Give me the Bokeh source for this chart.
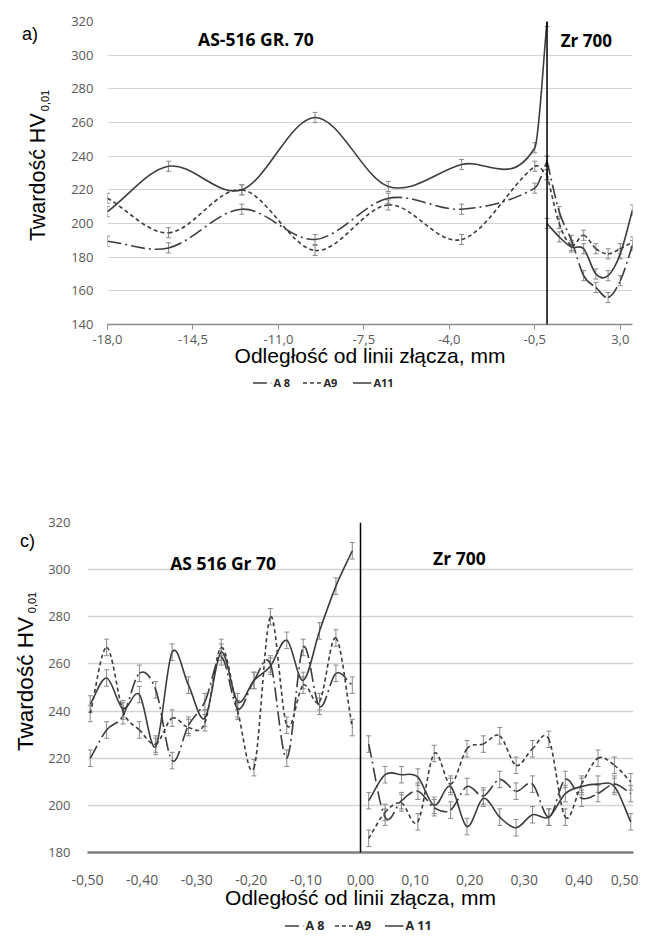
import math
from bokeh.plotting import figure
from bokeh.models import (ColumnDataSource, Whisker, TeeHead, Span, Label, Legend,
                          LegendItem, Spacer)
from bokeh.layouts import column, row
from bokeh.embed import file_html
from bokeh.resources import INLINE

# ---------------- chart a) ----------------
a_x_left = [-18.0, -15.5, -12.5, -9.5, -6.5, -3.5, -0.5, 0.0]
a_x_right = [0.0, 0.5, 1.0, 1.5, 2.0, 2.5, 3.0, 3.5]
a_A8_left = [189.5, 185.5, 208.5, 190.5, 215, 208.5, 221, 237]
a_A9_left = [215, 194.5, 220, 184, 211, 190.5, 234, 229]
a_A11_left = [207, 234, 220, 263, 222, 235, 245, 320]
a_A8_right = [237, 207, 190, 169, 162, 156, 166, 187]
a_A9_right = [229, 200, 187, 193, 185, 182, 185, 189]
a_A11_right = [200, 192, 186, 185, 170, 169, 182, 208]
a_err = 3.0
a_xticks = [-18.0, -14.5, -11.0, -7.5, -4.0, -0.5, 3.0]
a_xlabels = ["-18,0", "-14,5", "-11,0", "-7,5", "-4,0", "-0,5", "3,0"]
a_yticks = [140, 160, 180, 200, 220, 240, 260, 280, 300, 320]

# ---------------- chart c) ----------------
c_x_left = [-0.495, -0.465, -0.435, -0.405, -0.375, -0.345, -0.315, -0.285, -0.255,
            -0.225, -0.195, -0.165, -0.135, -0.105, -0.075, -0.045, -0.015]
c_x_right = [0.015, 0.045, 0.075, 0.105, 0.135, 0.165, 0.195, 0.225, 0.255,
             0.285, 0.315, 0.345, 0.375, 0.405, 0.435, 0.465, 0.495]
c_A8_left = [220, 232, 238, 256, 249, 219, 234, 244, 263, 241, 253, 260, 220, 267, 242, 256, 251]
c_A9_left = [239, 267, 240, 232, 226, 237, 233, 235, 267, 240, 216, 280, 234, 251, 244, 271, 233]
c_A11_left = [243, 254, 241, 247, 225, 265, 251, 237, 265, 244, 253, 259, 270, 253, 274, 293, 308]
c_A8_right = [226, 195, 202, 206, 199, 198, 208, 204, 211, 206, 209, 195, 211, 203, 205, 209, 205]
c_A9_right = [186, 197, 201, 193, 222, 209, 224, 226, 229.5, 217, 224, 228, 195, 209, 220, 217, 210]
c_A11_right = [202, 213, 213, 212, 200, 208, 191, 203, 195, 190.5, 196, 195, 205, 208, 209, 208, 193]
c_err = 3.5
c_xticks = [-0.5, -0.4, -0.3, -0.2, -0.1, 0.0, 0.1, 0.2, 0.3, 0.4, 0.5]
c_xlabels = ["-0,50", "-0,40", "-0,30", "-0,20", "-0,10", "0,00", "0,10", "0,20", "0,30", "0,40", "0,50"]
c_yticks = [180, 200, 220, 240, 260, 280, 300, 320]

LINE_COL = "#3c3c3c"
ERR_COL = "#8a8a8a"
STYLES = {"A8": "14 4 2 4", "A9": "4 3", "A11": "solid"}
TICK_FONT = "Open Sans"
TITLE_FONT = "Liberation Sans"
X_TITLE = "Odległość od linii złącza, mm"
NAN = float("nan")


def smooth_cols(xs, ys):
    """Excel-like smoothed line: cubic Hermite bezier segments through the data points."""
    n = len(xs)
    def slope(i):
        a = max(i - 1, 0)
        b = min(i + 1, n - 1)
        return (ys[b] - ys[a]) / (xs[b] - xs[a])
    d = dict(x0=[], y0=[], x1=[], y1=[], cx0=[], cy0=[], cx1=[], cy1=[])
    for i in range(n - 1):
        h = xs[i + 1] - xs[i]
        d["x0"].append(xs[i]); d["y0"].append(ys[i])
        d["x1"].append(xs[i + 1]); d["y1"].append(ys[i + 1])
        d["cx0"].append(xs[i] + h / 3); d["cy0"].append(ys[i] + slope(i) * h / 3)
        d["cx1"].append(xs[i + 1] - h / 3); d["cy1"].append(ys[i + 1] - slope(i + 1) * h / 3)
    return ColumnDataSource(d)


def add_series(p, xs, ys, err, dash):
    p.bezier(x0="x0", y0="y0", x1="x1", y1="y1", cx0="cx0", cy0="cy0", cx1="cx1", cy1="cy1",
             source=smooth_cols(xs, ys), line_color=LINE_COL, line_width=1.6, line_dash=dash)
    src = ColumnDataSource(dict(x=xs, lo=[v - err for v in ys], hi=[v + err for v in ys]))
    p.add_layout(Whisker(base="x", lower="lo", upper="hi", source=src, line_color=ERR_COL,
                         line_width=1,
                         lower_head=TeeHead(size=5, line_color=ERR_COL, line_width=1),
                         upper_head=TeeHead(size=5, line_color=ERR_COL, line_width=1)))


def style_chart(p, yticks, xticks, xlabels, size_x, size_y, grid_w):
    p.outline_line_color = None
    p.xgrid.visible = False
    p.ygrid.grid_line_color = "#d4d4d4"
    p.ygrid.grid_line_width = grid_w
    p.yaxis.ticker = yticks
    p.yaxis.axis_line_color = None
    p.yaxis.major_tick_line_color = None
    p.yaxis.minor_tick_line_color = None
    p.yaxis.major_tick_out = 0
    p.yaxis.major_tick_in = 0
    p.yaxis.major_label_text_font = TICK_FONT
    p.yaxis.major_label_text_font_size = size_y
    p.yaxis.major_label_text_color = "#595959"
    p.xaxis.ticker = xticks
    p.xaxis.major_label_overrides = {t: l for t, l in zip(xticks, xlabels)}
    p.xaxis.minor_tick_line_color = None
    p.xaxis.major_label_text_font = TICK_FONT
    p.xaxis.major_label_text_font_size = size_x
    p.xaxis.major_label_text_color = "#595959"
    p.xaxis.axis_label = X_TITLE
    p.xaxis.axis_label_text_font = TITLE_FONT
    p.xaxis.axis_label_text_font_size = "21px"
    p.xaxis.axis_label_text_font_style = "normal"
    p.xaxis.axis_label_text_color = "black"
    p.add_layout(Span(location=0, dimension="height", line_color="black", line_width=1.5))


def blank_fig(w, h, top=0, bottom=0):
    # frame spans [top, h-bottom]; data y = pixels from the figure's top edge
    f = figure(width=w, height=h, x_range=(0, w), y_range=(h - bottom, top),
               output_backend="svg", toolbar_location=None,
               x_axis_location=None, y_axis_location=None,
               min_border_left=0, min_border_right=0,
               min_border_top=top, min_border_bottom=bottom, outline_line_color=None)
    f.grid.visible = False
    return f


def legend_fig(w, h, names, font_size):
    f = blank_fig(w, h)
    items = []
    for key, name in names:
        r = f.line([NAN, NAN], [NAN, NAN], line_color=LINE_COL, line_width=1.6,
                   line_dash=STYLES[key])
        items.append(LegendItem(label=name, renderers=[r]))
    f.add_layout(Legend(items=items, orientation="horizontal", location="center",
                        label_text_font=TICK_FONT, label_text_font_style="bold",
                        label_text_font_size=font_size, label_text_color="#262626",
                        glyph_width=19, glyph_height=12, label_height=12, label_standoff=2,
                        spacing=9, padding=0, margin=0, border_line_color=None,
                        background_fill_alpha=0))
    return f


def text_label(p, x, y, text, size, font, bold=False, angle=0.0):
    p.add_layout(Label(x=x, y=y, text=text, text_font=font, text_font_size=size,
                       text_font_style="bold" if bold else "normal", text_color="black",
                       text_align="center", text_baseline="middle", angle=angle))


# ---------- chart a ----------
A_H, A_TOP, A_BOT = 365, 13, 49
pa = figure(width=570, height=A_H, x_range=(-18, 3.5), y_range=(140, 320),
            output_backend="svg", toolbar_location=None,
            min_border_left=39, min_border_right=6, min_border_top=A_TOP, min_border_bottom=A_BOT)
style_chart(pa, a_yticks, a_xticks, a_xlabels, "13px", "13px", 1.2)
pa.xaxis.axis_line_color = "#8c8c8c"
pa.xaxis.axis_line_width = 1.5
pa.xaxis.major_tick_line_color = "#8c8c8c"
pa.xaxis.major_tick_out = 5
pa.xaxis.major_tick_in = 0
pa.xaxis.major_label_standoff = 5
pa.xaxis.axis_label_standoff = -3
pa.yaxis.major_label_standoff = 14
for xs, a8, a9, a11 in [(a_x_left, a_A8_left, a_A9_left, a_A11_left),
                        (a_x_right, a_A8_right, a_A9_right, a_A11_right)]:
    add_series(pa, xs, a8, a_err, STYLES["A8"])
    add_series(pa, xs, a9, a_err, STYLES["A9"])
    add_series(pa, xs, a11, a_err, STYLES["A11"])
text_label(pa, -11.92, 309.7, "AS-516 GR. 70", "17.5px", TICK_FONT, bold=True)
text_label(pa, 1.61, 309.0, "Zr 700", "17px", TICK_FONT, bold=True)

sa = blank_fig(60, A_H, A_TOP, A_BOT)
text_label(sa, 21.5, 25.5, "a)", "18px", TITLE_FONT)
text_label(sa, 29.0, 168.7, "Twardość HV", "21.5px", TITLE_FONT, angle=math.pi / 2)
text_label(sa, 36.0, 92.0, "0,01", "11px", TITLE_FONT, angle=math.pi / 2)

la = legend_fig(630, 18, [("A8", "A 8"), ("A9", "A9"), ("A11", "A11")], "11px")

# ---------- chart c ----------
C_H, C_TOP, C_BOT = 409, 16, 63
pc = figure(width=593, height=C_H, x_range=(-0.5, 0.5), y_range=(180, 320),
            output_backend="svg", toolbar_location=None,
            min_border_left=40, min_border_right=5, min_border_top=C_TOP, min_border_bottom=C_BOT)
style_chart(pc, c_yticks, c_xticks, c_xlabels, "14px", "13px", 1.5)
pc.xaxis.axis_line_color = "#7f7f7f"
pc.xaxis.axis_line_width = 2.5
pc.xaxis.major_tick_line_color = None
pc.xaxis.major_tick_out = 0
pc.xaxis.major_tick_in = 0
pc.xaxis.major_label_standoff = 22
pc.xaxis.axis_label_standoff = -2
pc.yaxis.major_label_standoff = 17
for xs, a8, a9, a11 in [(c_x_left, c_A8_left, c_A9_left, c_A11_left),
                        (c_x_right, c_A8_right, c_A9_right, c_A11_right)]:
    add_series(pc, xs, a8, c_err, STYLES["A8"])
    add_series(pc, xs, a9, c_err, STYLES["A9"])
    add_series(pc, xs, a11, c_err, STYLES["A11"])
text_label(pc, -0.2516, 303.0, "AS 516 Gr 70", "17.5px", TICK_FONT, bold=True)
text_label(pc, 0.181, 304.9, "Zr 700", "17.5px", TICK_FONT, bold=True)

sc = blank_fig(37, C_H, C_TOP, C_BOT)
text_label(sc, 19.0, 34.5, "c)", "18px", TITLE_FONT)
text_label(sc, 17.0, 177.5, "Twardość HV", "22.5px", TITLE_FONT, angle=math.pi / 2)
text_label(sc, 23.5, 96.0, "0,01", "11px", TITLE_FONT, angle=math.pi / 2)

lc = legend_fig(556, 20, [("A8", "A 8"), ("A9", "A9"), ("A11", "A 11")], "12.5px")

inner = column(row(sa, pa), la, Spacer(width=630, height=115),
               row(sc, pc), row(Spacer(width=72, height=20), lc))
layout = column(Spacer(width=638, height=8), row(Spacer(width=8, height=10), inner))
open("out.html", "w").write(file_html(layout, INLINE))
